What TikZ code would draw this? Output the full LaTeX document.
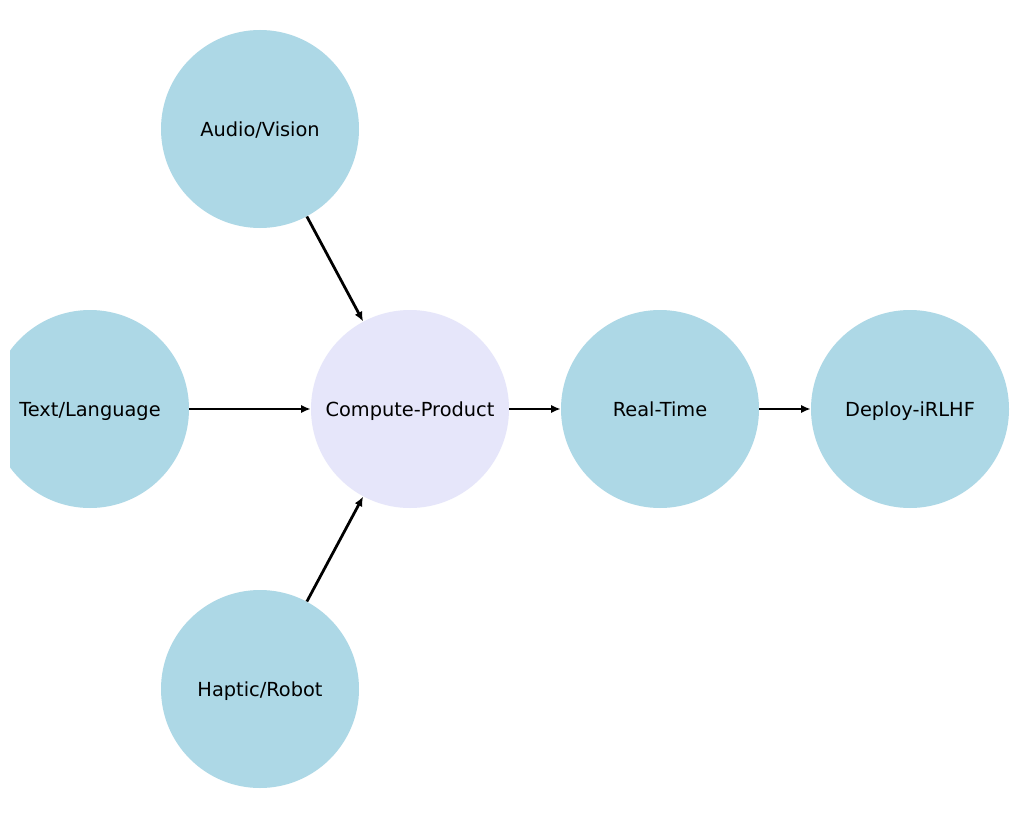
\documentclass[tikz,border=0pt]{standalone}
\usepackage{fontspec}
\setmainfont{DejaVu Sans}
\usetikzlibrary{arrows.meta}
\definecolor{nodeblue}{RGB}{173,216,230}
\definecolor{nodelav}{RGB}{230,230,250}
\begin{document}
\begin{tikzpicture}[x=0.7227pt,y=-0.7227pt,
  circ/.style={circle,fill=nodeblue,minimum size=198*0.7227pt,inner sep=0pt,
    font=\fontsize{14pt}{16pt}\selectfont,text height=1.45ex+4.4pt,text depth=0.35ex},
  lav/.style={circ,fill=nodelav},
  conn/.style={line width=2pt,-{Latex[length=7pt,width=6pt]}}]
\useasboundingbox (0,0) rectangle (1019,819);
\fill[white] (0,0) rectangle (1019,819);
\begin{scope}
\clip (10,0) rectangle (1019,819);
\node[circ] (audio) at (260,129) {Audio/Vision};
\node[circ] (text) at (90,409) {Text/Language};
\node[lav] (comp) at (410,409) {Compute-Product};
\node[circ] (rt) at (660,409) {Real-Time};
\node[circ] (dep) at (910,409) {Deploy-iRLHF};
\node[circ] (hap) at (260,689) {Haptic/Robot};
\end{scope}
\draw[conn] (audio) -- (comp);
\draw[conn] (text) -- (comp);
\draw[conn] (hap) -- (comp);
\draw[conn] (comp) -- (rt);
\draw[conn] (rt) -- (dep);
\end{tikzpicture}
\end{document}
